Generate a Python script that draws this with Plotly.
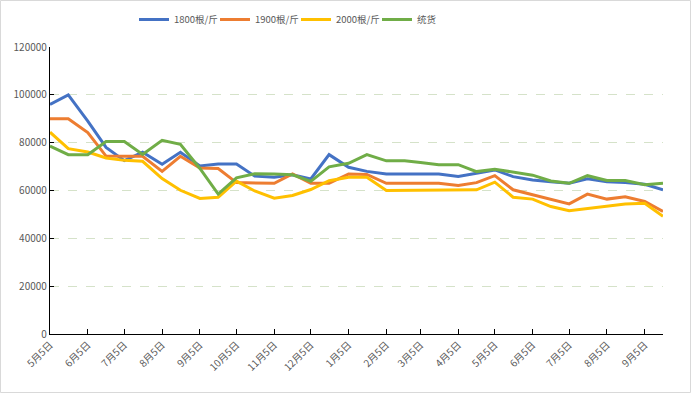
import plotly.graph_objects as go
import pandas as pd

# ---- data ----
dates = [
    "2022-05-05", "2022-05-20", "2022-06-05", "2022-06-20", "2022-07-05", "2022-07-20",
    "2022-08-05", "2022-08-20", "2022-09-05", "2022-09-20", "2022-10-05", "2022-10-20",
    "2022-11-05", "2022-11-20", "2022-12-05", "2022-12-20", "2023-01-05", "2023-01-20",
    "2023-02-05", "2023-02-20", "2023-03-05", "2023-03-20", "2023-04-05", "2023-04-20",
    "2023-05-05", "2023-05-20", "2023-06-05", "2023-06-20", "2023-07-05", "2023-07-20",
    "2023-08-05", "2023-08-20", "2023-09-05", "2023-09-20",
]
s1800 = [96000, 100000, 89000, 78000, 72500, 76000, 71000, 76000, 70300, 71100, 71100, 66000,
         65500, 66600, 64800, 75000, 69700, 68000, 66900, 66900, 66900, 66900, 65900, 67200,
         68600, 65800, 64400, 63700, 63000, 64900, 63700, 63300, 62600, 60300]
s1900 = [90000, 90000, 84200, 74400, 74300, 74300, 68000, 74300, 69400, 69200, 63300, 63200,
         63000, 66900, 63000, 63000, 66900, 66700, 63000, 63000, 63000, 63000, 62100, 63300,
         66200, 60300, 58200, 56400, 54400, 58500, 56400, 57400, 55400, 51200]
s2000 = [84400, 77500, 76100, 73600, 72600, 72200, 65000, 60100, 56700, 57200, 63900, 59800,
         56800, 57900, 60400, 64100, 65500, 65500, 60000, 60000, 60000, 60000, 60000, 60300,
         63500, 57200, 56400, 53300, 51500, 52400, 53300, 54400, 54700, 49200]
s_tong = [78600, 75000, 75000, 80500, 80500, 75100, 81000, 79300, 69200, 58500, 65300, 67000,
          66900, 66600, 63800, 69900, 71400, 75000, 72400, 72400, 71700, 70800, 70800, 67900,
          68900, 67600, 66400, 64000, 63000, 66200, 64200, 64200, 62400, 63000]
series_names = ["1800根/斤", "1900根/斤", "2000根/斤", "统货"]
tick_dates = ["2022-05-05", "2022-06-05", "2022-07-05", "2022-08-05", "2022-09-05",
              "2022-10-05", "2022-11-05", "2022-12-05", "2023-01-05", "2023-02-05",
              "2023-03-05", "2023-04-05", "2023-05-05", "2023-06-05", "2023-07-05",
              "2023-08-05", "2023-09-05"]
tick_labels = ["5月5日", "6月5日", "7月5日", "8月5日", "9月5日", "10月5日", "11月5日",
               "12月5日", "1月5日", "2月5日", "3月5日", "4月5日", "5月5日", "6月5日",
               "7月5日", "8月5日", "9月5日"]

colors = ["#4472C4", "#ED7D31", "#FFC000", "#70AD47"]
FONT = "Noto Sans CJK SC, Microsoft YaHei, sans-serif"

W, H = 692, 394
ML, MR, MT, MB = 50, 29, 47, 60

fig = go.Figure()
for name, vals, c in zip(series_names, [s1800, s1900, s2000, s_tong], colors):
    fig.add_trace(go.Scatter(x=pd.to_datetime(dates), y=vals, name=name, mode="lines",
                             line=dict(color=c, width=3)))

pw = W - ML - MR
ph = H - MT - MB
fig.add_shape(type="rect", xref="paper", yref="paper",
              x0=-(ML - 0.5) / pw, x1=1 + (MR - 1.5) / pw,
              y0=-(MB - 1.5) / ph, y1=1 + (MT - 0.5) / ph,
              line=dict(color="#d9d9d9", width=1), layer="below")

fig.update_layout(
    width=W, height=H,
    margin=dict(l=ML, r=MR, t=MT, b=MB, pad=0, autoexpand=False),
    paper_bgcolor="white", plot_bgcolor="white",
    font=dict(family=FONT, color="#595959", size=10),
    showlegend=True,
    legend=dict(orientation="h", xref="container", yref="container",
                x=134 / W, xanchor="left", y=1 - 5 / H, yanchor="top",
                font=dict(size=9.5, color="#595959"),
                itemwidth=30, entrywidth=36, entrywidthmode="pixels",
                tracegroupgap=0, bgcolor="rgba(0,0,0,0)"),
    xaxis=dict(type="date", range=[dates[0], dates[-1]],
               tickmode="array", tickvals=tick_dates, ticktext=tick_labels,
               tickangle=-45, showgrid=False, zeroline=False,
               showline=True, linecolor="#000000", linewidth=1.3,
               ticks="inside", ticklen=5, tickcolor="#000000", tickwidth=1,
               tickfont=dict(size=10, color="#595959")),
    yaxis=dict(range=[0, 120000], dtick=20000, tick0=0, tickformat="d",
               showgrid=True, gridcolor="#d5e2c9", griddash="dash", gridwidth=1,
               zeroline=False, showline=True, linecolor="#000000", linewidth=1.3,
               ticks="inside", ticklen=4, tickcolor="#000000", tickwidth=1,
               tickfont=dict(size=10, color="#595959")),
)

fig.write_html("out.html", config={"displayModeBar": False},
               post_script="document.body.style.margin='0';document.body.style.padding='0';")
